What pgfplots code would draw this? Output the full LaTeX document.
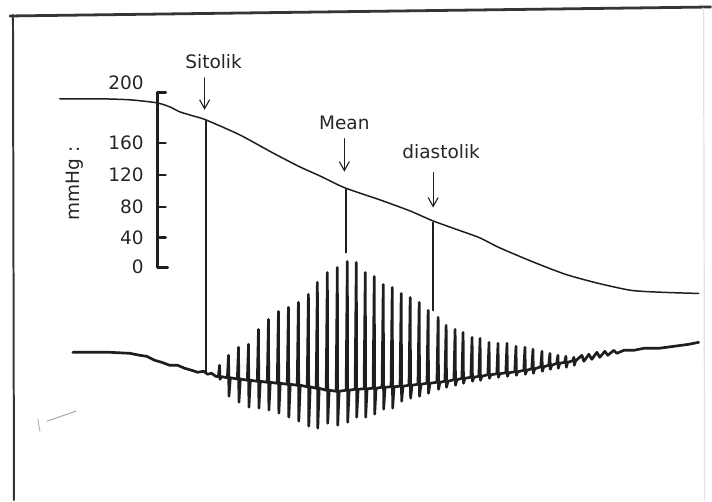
\documentclass[border=0pt]{standalone}
\usepackage{pgfplots}
\pgfplotsset{compat=1.18}
\usepackage{fontspec}
\setmainfont{DejaVu Sans}
\usetikzlibrary{arrows.meta}
\definecolor{ink}{HTML}{1E1E1E}
\definecolor{txt}{HTML}{262626}
\begin{document}
\begin{tikzpicture}
\begin{axis}[
  scale only axis, width=356bp, height=250.5bp,
  xmin=0, xmax=712, ymin=0, ymax=501, y dir=reverse,
  hide axis, clip=false,
  every axis plot/.append style={line join=round, line cap=round},
]
% background
\addplot[draw=none, fill=white] coordinates {(0,0) (712,0) (712,501) (0,501) (0,0)};
% frame
\addplot[color=ink!90, line width=1.4pt] coordinates {(10,16) (712,7)};
\addplot[color=ink!90, line width=1pt] coordinates {(13,15) (14,501)};
\addplot[color=black!12, line width=0.6pt] coordinates {(705,8) (706,501)};
% faint mark lower left
\addplot[color=black!35, line width=0.5pt] coordinates {(76,412) (47,422)};
\addplot[color=black!30, line width=0.5pt] coordinates {(38,420) (40,432)};

% cuff pressure curve
\addplot[color=ink, line width=0.75pt, smooth, tension=0.4] coordinates {
(60,99) (100,99) (130,100) (157,103) (170,107) (180,112) (193,116) (206,120)
(240,135) (273,153) (300,167) (320,176) (345,188) (380,200) (410,211) (433,221)
(455,229) (480,238) (500,248) (533,262) (567,275) (600,284) (633,291) (667,293) (700,294)};

% pressure scale bar
\addplot[color=ink, line width=1.5pt] coordinates {(166,93) (158,93) (158,268) (168,268)};
\addplot[color=ink, line width=1.1pt] coordinates {(158,143) (166,143)};
\addplot[color=ink, line width=1.1pt] coordinates {(158,175) (166,175)};
\addplot[color=ink, line width=1.1pt] coordinates {(158,207) (166,207)};
\addplot[color=ink, line width=1.1pt] coordinates {(158,238) (166,238)};

% marker lines
\addplot[color=ink, line width=1pt] coordinates {(206,121) (206,374)};
\addplot[color=ink, line width=1pt] coordinates {(347,190) (347,253)};
\addplot[color=ink, line width=1pt] coordinates {(434,223) (434,311)};

% arrows
\addplot[color=ink, line width=0.55pt, -{Straight Barb[length=4.5pt,width=5pt]}] coordinates {(205,78) (205,110)};
\addplot[color=ink, line width=0.55pt, -{Straight Barb[length=4.5pt,width=5pt]}] coordinates {(345,139) (345,172)};
\addplot[color=ink, line width=0.55pt, -{Straight Barb[length=4.5pt,width=5pt]}] coordinates {(434,173) (434,208)};

% oscillation trace
\addplot[color=ink, line width=1.35pt] coordinates {
(73,353) (110,353) (130,354) (140,356) (147,357) (155,361) (162,363) (170,366) (178,366)
(185,369) (192,371) (198,373) (204,372) (208,375) (212,374) (216,377)
(218.8,377.4)(220,366)(220.4,380)(221.8,377.4)
(227.8,378.5)(229,356)(229.4,397)(230.8,378.5)
(237.8,379.7)(239,348)(239.4,403)(240.8,379.7)
(247.8,381)(249,345)(249.4,408)(250.8,381)
(257.8,382)(259,330)(259.4,409)(260.8,382)
(267.8,383)(269,320)(269.4,411)(270.8,383)
(277.8,384)(279,312)(279.4,414)(280.8,384)
(287.8,385)(289,308)(289.4,418)(290.8,385)
(297.8,386)(299,303)(299.4,422)(300.8,386)
(307.8,387.5)(309,295)(309.4,427)(310.8,387.5)
(316.8,389)(318,283)(318.4,429)(319.8,389)
(326.8,391)(328,273)(328.4,424)(329.8,391)
(336.8,392)(338,268)(338.4,426)(339.8,392)
(346.8,391)(348,262)(348.4,423)(349.8,391)
(355.8,390)(357,263)(357.4,418)(358.8,390)
(364.8,389.5)(366,273)(366.4,418)(367.8,389.5)
(373.8,389)(375,277)(375.4,415)(376.8,389)
(382.8,388)(384,285)(384.4,410)(385.8,388)
(391.8,387.5)(393,288)(393.4,409)(394.8,387.5)
(400.8,387)(402,294)(402.4,402)(403.8,387)
(409.8,386)(411,298)(411.4,399)(412.8,386)
(418.8,385)(420,303)(420.4,397)(421.8,385)
(427.8,384)(429,311)(429.4,394)(430.8,384)
(437.8,383)(439,318)(439.4,390)(440.8,383)
(445.8,382)(447,326)(447.4,388)(448.8,382)
(454.8,380.5)(456,330)(456.4,386)(457.8,380.5)
(462.8,379)(464,333)(464.4,384)(465.8,379)
(471.8,378)(473,338)(473.4,382)(474.8,378)
(479.8,377)(481,339)(481.4,381)(482.8,377)
(488.8,375.5)(490,343)(490.4,379)(491.8,375.5)
(497.8,374.5)(499,344)(499.4,378)(500.8,374.5)
(506.8,373.5)(508,344)(508.4,377)(509.8,373.5)
(515.8,372.5)(517,347)(517.4,376)(518.8,372.5)
(524.8,371)(526,348)(526.4,375)(527.8,371)
(532.8,369.5)(534,350)(534.4,374)(535.8,369.5)
(541.8,367.5)(543,352)(543.4,372)(544.8,367.5)
(549.8,366)(551,354)(551.4,370)(552.8,366)
(557.8,364)(559,356)(559.4,369)(560.8,364)
(565.8,363)(567,357)(567.4,368)(568.8,363)
(573.8,361.5)(575,358)(575.4,366)(576.8,361.5)
(583,356) (585,362) (590,355) (593,360) (598,353) (601,358) (606,352) (609,356)
(615,351) (618,354) (625,351) (635,351) (645,349) (660,349) (675,347) (690,345) (700,343)};

% texts
\node[txt, font=\fontsize{9.3}{11}\selectfont, anchor=east] at (axis cs:151,83) {200};
\node[txt, font=\fontsize{9.3}{11}\selectfont, anchor=east] at (axis cs:151,143) {160};
\node[txt, font=\fontsize{9.3}{11}\selectfont, anchor=east] at (axis cs:151,175) {120};
\node[txt, font=\fontsize{9.3}{11}\selectfont, anchor=east] at (axis cs:151,207) {80};
\node[txt, font=\fontsize{9.3}{11}\selectfont, anchor=east] at (axis cs:151,238) {40};
\node[txt, font=\fontsize{9.3}{11}\selectfont, anchor=east] at (axis cs:151,267) {0};
\node[txt, font=\fontsize{9.3}{11}\selectfont, rotate=90] at (axis cs:75,184) {mmHg :};
\node[txt, font=\fontsize{9.3}{11}\selectfont] at (axis cs:214,62) {Sitolik};
\node[txt, font=\fontsize{9.3}{11}\selectfont] at (axis cs:345,123) {Mean};
\node[txt, font=\fontsize{9.3}{11}\selectfont] at (axis cs:442,152) {diastolik};
\end{axis}
\end{tikzpicture}
\end{document}
